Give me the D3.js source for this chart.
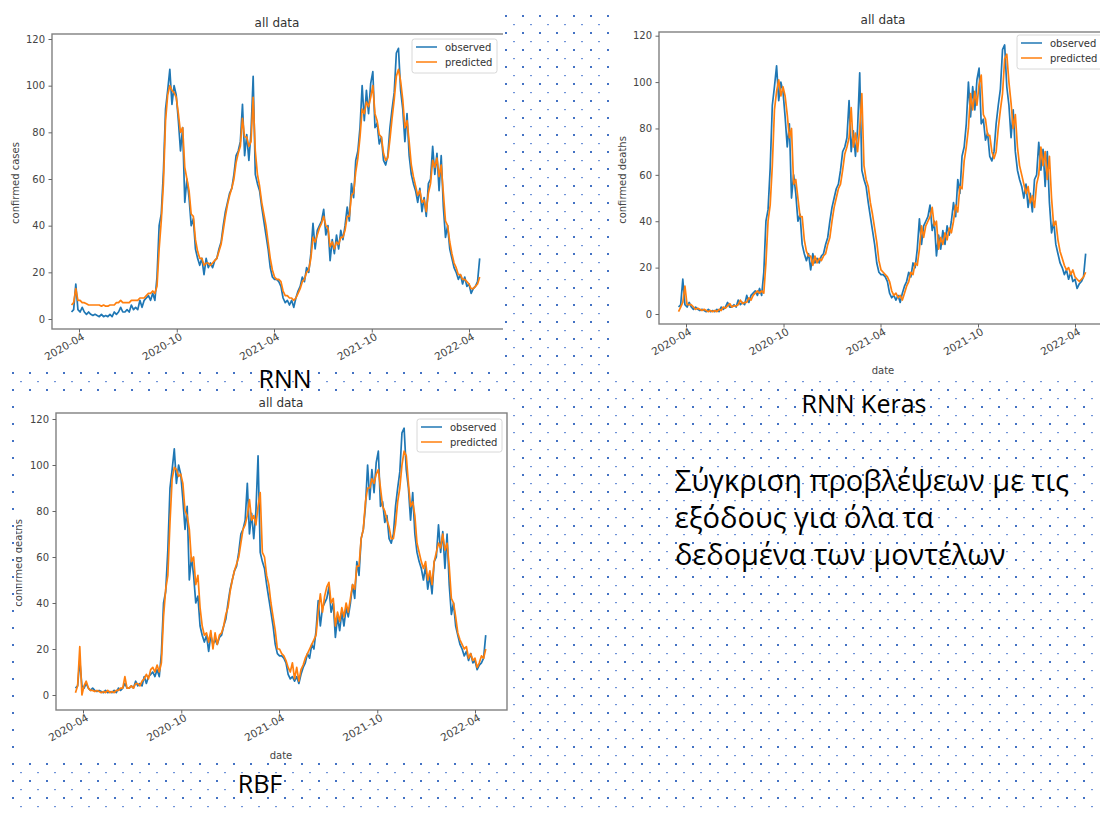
<!DOCTYPE html>
<html><head><meta charset="utf-8">
<script src="https://cdn.jsdelivr.net/npm/d3@7"></script>
<style>body{margin:0;background:#fff} svg{display:block}</style>
</head><body>
<svg id="c" width="1100" height="813"></svg>
<script>
// ---------- DATA ----------
const startDate = "2020-03-18";
const stepDays = 4;
const observed = [3,4,15,4,3,5,3,2,3,2,1.5,2,1.5,1,2,1,1.5,1,2,1,3,2,3,5,3,3,4,3,6,4,5,4,8,5,8,9,10,8,11,8,
18,40,45,63,90,98,107,92,100,96,85,72,82,50,60,52,40,43,30,26,23,26,19,26,22,24,22,25,26,30,
33,40,46,50,54,56,62,70,72,76,92,70,79,68,80,104,62,58,55,48,42,36,30,22,18,17,17,16,14,9,
7,8,6,8,5,9,12,14,18,16,22,20,28,41,30,38,40,42,47,36,40,25,34,28,36,30,38,34,40,48,
42,58,52,68,72,82,100,85,98,88,101,106,82,84,75,78,68,66,70,82,90,97,114,116,98,90,76,88,70,62,
58,55,50,56,46,52,44,58,60,74,62,71,55,70,48,35,40,30,26,22,20,17,19,15,18,14,15,11,13,14,16,26];
const predRNN = [6,7,13,8,8,7,7,6.5,6,6,6,6,6,6,5.5,6,5.5,5.5,6,6,6,7,7,8,7,7,7,7,8,8,8,8,9,9,9,10,11,11,12,11,
14,30,42,58,85,96,100,98,97,95,88,80,82,65,60,55,45,44,34,29,26,26,23,24,24,23,24,25,26,29,
32,38,44,49,53,56,60,67,71,74,86,78,78,74,76,95,72,62,57,50,45,40,33,26,21,18,17,17,16,12,
10,10,9,9,8,9,11,13,16,17,20,21,26,35,33,36,39,41,44,40,39,31,33,30,33,32,35,35,38,44,
44,53,54,63,69,78,90,88,93,91,95,100,88,85,79,78,71,68,69,77,86,94,104,107,102,94,82,85,76,66,
61,57,53,55,50,51,46,54,58,68,65,69,61,66,54,42,40,33,28,24,22,19,19,17,17,16,15,13,13,14,15,18];
const predKeras = [1,3,5,12,4,4,4,3,2,2.5,2,1.5,2,1.5,1,1.5,1,1.5,1,2,1.5,3,2.5,3.5,4.5,3,3.5,3.5,4,6,4.5,5,5,7,6,8,9,10,9,10,
9,22,40,47,64,88,96,101,94,98,94,86,76,80,56,58,50,42,42,32,27,25,25,21,25,22,24,23,25,26,
30,33,40,46,50,54,56,62,69,72,76,89,72,78,70,80,95,64,58,55,48,43,37,31,23,19,18,17,16,14,
10,8,9,7,8,6,9,12,14,18,17,22,21,28,38,33,38,40,42,46,38,40,28,33,30,35,32,37,35,40,
47,44,55,54,66,72,80,95,88,96,90,99,103,86,84,77,77,70,67,70,80,88,95,110,112,100,91,80,86,72,
64,60,56,52,55,48,51,46,56,60,72,64,70,58,68,50,38,40,32,27,24,21,19,20,17,19,16,15,14,15,16,18];
const predRBF = [1,4,21,0,4,6,3,2,2,1.5,2,1.5,1,1.5,1,2,1,1.5,1,2,2,3,3,8,3,3,4,3,5,5,4,6,7,9,7,11,12,10,13,10,
14,34,46,52,75,94,99,98,95,96,92,80,78,72,58,60,48,52,38,30,26,27,23,28,20,27,22,26,27,30,
35,38,45,50,54,57,60,66,72,74,78,85,76,78,74,82,88,62,60,52,48,40,34,28,20,20,18,17,15,12,
10,14,7,12,6,11,13,16,18,20,22,24,26,36,44,36,43,47,49,40,42,30,36,32,38,34,40,36,42,48,
46,56,56,68,72,84,90,90,94,92,96,98,90,82,80,76,73,68,68,74,84,90,100,106,104,92,82,84,78,66,
62,58,55,58,50,54,48,58,62,66,64,70,63,66,56,42,40,34,27,24,22,20,21,16,18,15,16,12,14,17,16,20];
const yTicks = [0,20,40,60,80,100,120];
const xTickLabels = ["2020-04","2020-10","2021-04","2021-10","2022-04"];
const seriesNames = ["observed","predicted"];
const panelTitles = ["RNN","RNN Keras","RBF"];
const chartTitle = "all data";
const yLabels = ["confirmed cases","confirmed deaths","confirmed deaths"];
const xLabel = "date";
const noteLines = ["Σύγκριση προβλέψεων με τις","εξόδους για όλα τα","δεδομένα των μοντέλων"];

// ---------- LAYOUT ----------
const svg = d3.select("#c");
const parseDay = d3.timeParse("%Y-%m-%d");
const parseMonth = d3.timeParse("%Y-%m");
const start = parseDay(startDate);
const dates = observed.map((_, i) => d3.timeDay.offset(start, i * stepDays));
const blue = "#1f77b4", orange = "#ff7f0e";
const mono = "DejaVu Sans, sans-serif";
const slideFont = "'Open Sans', 'Noto Sans', sans-serif";

const defs = svg.append("defs");
const pat = defs.append("pattern").attr("id","dots").attr("patternUnits","userSpaceOnUse")
  .attr("width",17).attr("height",17);
pat.append("rect").attr("x",12).attr("y",15).attr("width",2).attr("height",2).attr("fill","#4472c4");
pat.append("rect").attr("x",3).attr("y",7).attr("width",2).attr("height",1.2).attr("fill","#6f93d8");

svg.append("rect").attr("width",1100).attr("height",813).attr("fill","#fff");
svg.append("rect").attr("x",8).attr("y",12).attr("width",1092).attr("height",801).attr("fill","url(#dots)");

const panels = [
  {pred: predRNN, ylab: yLabels[0], img:[0,0,503,369], ax:{l:52,t:34,r:506,b:329}, xr:[79,469], yr:[319,39],
   title:[277,27], ylabPos:[15,183], xlab:null, leg:[412,39,85,34], cap:[285,388]},
  {pred: predKeras, ylab: yLabels[1], img:[612,0,488,380], ax:{l:659,t:32,r:1115,b:324}, xr:[686,1075], yr:[314,35.7],
   title:[883,24], ylabPos:[622,180], xlab:[883,374], leg:[1017,35,88,34], cap:[864,413]},
  {pred: predRBF, ylab: yLabels[2], img:[16,393,496,367], ax:{l:56,t:413,r:507,b:710}, xr:[83,475], yr:[695,419],
   title:[281,407], ylabPos:[18,563], xlab:[281,759], leg:[417,419,85,33], cap:[260,793]}
];

panels.forEach((p, k) => {
  const cid = "clip" + k;
  defs.append("clipPath").attr("id", cid).append("rect")
    .attr("x", p.img[0]).attr("y", p.img[1]).attr("width", p.img[2]).attr("height", p.img[3]);
  const g = svg.append("g").attr("clip-path", `url(#${cid})`);
  g.append("rect").attr("x", p.img[0]).attr("y", p.img[1]).attr("width", p.img[2]).attr("height", p.img[3]).attr("fill","#fff");

  const x = d3.scaleTime().domain([parseMonth("2020-04"), parseMonth("2022-04")]).range(p.xr);
  const y = d3.scaleLinear().domain([0,120]).range(p.yr);

  // lines
  const line = (arr) => d3.line().x((d,i) => x(dates[i])).y(d => y(d))(arr);
  g.append("path").attr("d", line(observed)).attr("fill","none").attr("stroke",blue).attr("stroke-width",1.7).attr("stroke-linejoin","round");
  g.append("path").attr("d", line(p.pred)).attr("fill","none").attr("stroke",orange).attr("stroke-width",1.7).attr("stroke-linejoin","round");

  // spines
  const a = p.ax;
  g.append("rect").attr("x",a.l).attr("y",a.t).attr("width",a.r-a.l).attr("height",a.b-a.t)
    .attr("fill","none").attr("stroke","#808080").attr("stroke-width",1.4);

  // y axis
  const ya = g.append("g").attr("transform",`translate(${a.l},0)`)
    .call(d3.axisLeft(y).tickValues(yTicks).tickSize(3.5).tickPadding(3.5));
  ya.select(".domain").remove();
  ya.selectAll("line").attr("stroke","#666");
  ya.selectAll("text").attr("font-family",mono).attr("font-size",10).attr("fill","#444");

  // x axis
  const xa = g.append("g").attr("transform",`translate(0,${a.b})`)
    .call(d3.axisBottom(x).tickValues(xTickLabels.map(parseMonth)).tickFormat(d3.timeFormat("%Y-%m")).tickSize(3.5));
  xa.select(".domain").remove();
  xa.selectAll("line").attr("stroke","#666");
  xa.selectAll("text").attr("font-family",mono).attr("font-size",10.5).attr("fill","#444")
    .attr("text-anchor","end").attr("y",4).attr("x",0).attr("dy","0.71em").attr("transform","rotate(-30)");

  // title
  g.append("text").attr("x",p.title[0]).attr("y",p.title[1]).attr("text-anchor","middle")
    .attr("font-family",mono).attr("font-size",12).attr("fill","#333").text(chartTitle);
  // y label
  g.append("text").attr("transform",`translate(${p.ylabPos[0]},${p.ylabPos[1]}) rotate(-90)`)
    .attr("text-anchor","middle").attr("dy","0.35em").attr("font-family",mono).attr("font-size",10)
    .attr("fill","#444").text(p.ylab);
  if (p.xlab) g.append("text").attr("x",p.xlab[0]).attr("y",p.xlab[1]).attr("text-anchor","middle")
    .attr("font-family",mono).attr("font-size",10).attr("fill","#444").text(xLabel);

  // legend
  const L = p.leg;
  g.append("rect").attr("x",L[0]).attr("y",L[1]).attr("width",L[2]).attr("height",L[3]).attr("rx",2.5)
    .attr("fill","#fff").attr("fill-opacity",0.85).attr("stroke","#d8d8d8");
  [blue, orange].forEach((c, j) => {
    const yy = L[1] + 8 + j * 15;
    g.append("line").attr("x1",L[0]+4).attr("x2",L[0]+25).attr("y1",yy).attr("y2",yy)
      .attr("stroke",c).attr("stroke-width",1.5);
    g.append("text").attr("x",L[0]+33).attr("y",yy).attr("dy","0.35em").attr("font-family",mono)
      .attr("font-size",10).attr("fill","#333").text(seriesNames[j]);
  });

  // caption on slide
  svg.append("text").attr("x",p.cap[0]).attr("y",p.cap[1]).attr("text-anchor","middle")
    .attr("font-family",slideFont).attr("font-size",25).attr("fill","#000").text(panelTitles[k]);
});

// note text
const note = svg.append("text").attr("font-family",slideFont).attr("font-size",29).attr("fill","#000");
noteLines.forEach((t, i) => {
  note.append("tspan").attr("x",675).attr("y",491 + i*37).text(t);
});
</script>
</body></html>
